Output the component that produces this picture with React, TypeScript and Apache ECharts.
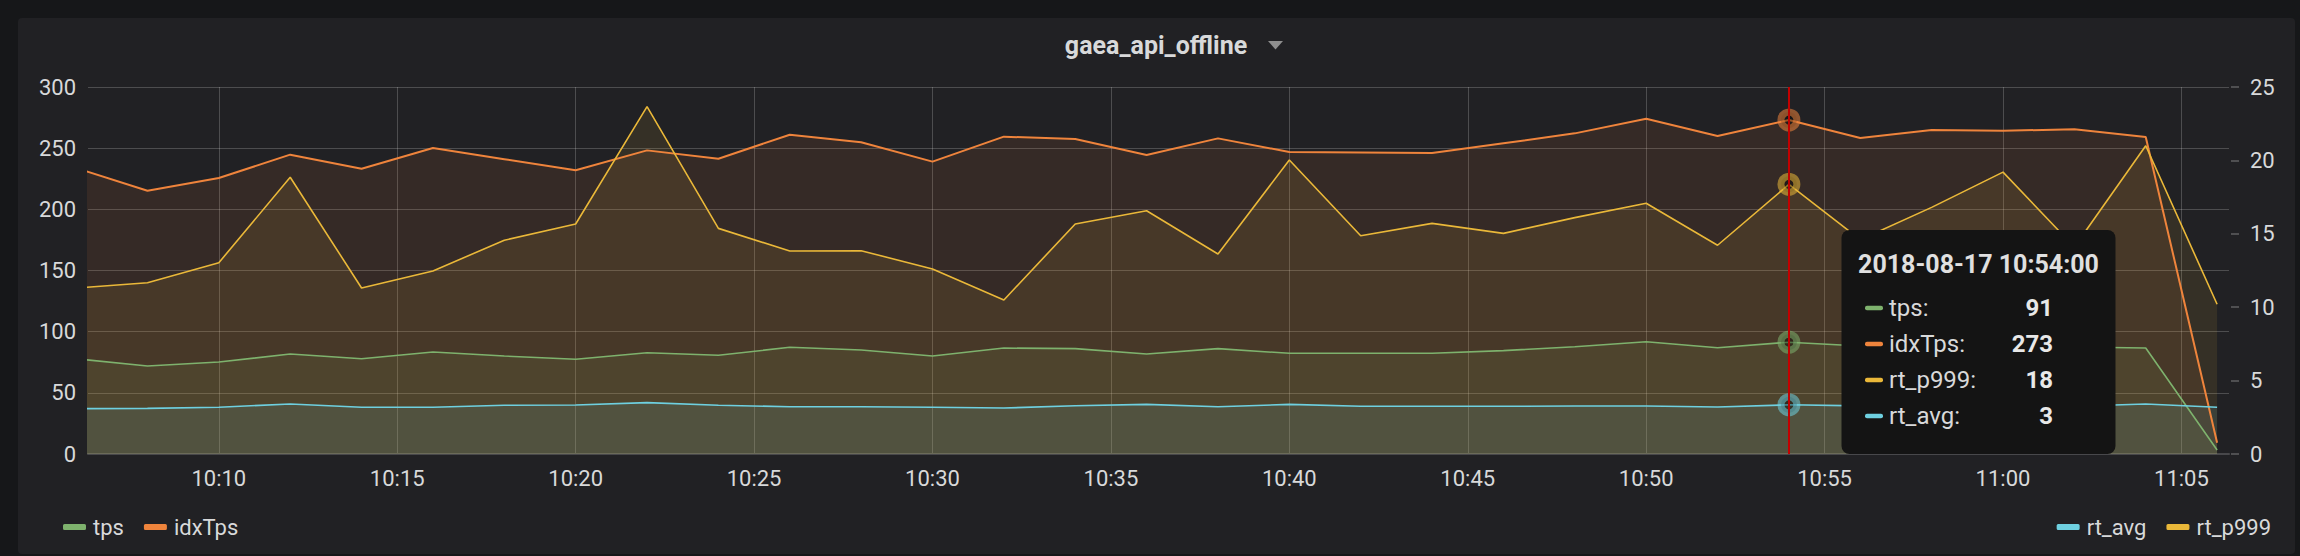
import React, { useEffect, useRef } from 'react';
import * as echarts from 'echarts';

const chartTitle = 'gaea_api_offline';
const dateLabel = '2018-08-17';
const times = [
  '10:06', '10:08', '10:10', '10:12', '10:14', '10:16', '10:18', '10:20', '10:22', '10:24',
  '10:26', '10:28', '10:30', '10:32', '10:34', '10:36', '10:38', '10:40', '10:42', '10:44',
  '10:46', '10:48', '10:50', '10:52', '10:54', '10:56', '10:58', '11:00', '11:02', '11:04', '11:06',
];
const tps = [
  77.8, 71.9, 75.2, 81.7, 77.9, 83.4, 80.1, 77.4, 82.8, 80.7,
  87.2, 85.0, 80.1, 86.6, 86.1, 81.7, 86.1, 82.3, 82.3, 82.3,
  84.5, 87.7, 91.8, 86.9, 91.4, 88.3, 88.8, 89.5, 87.5, 86.6, 3.3,
];
const idxTps = [
  233.7, 215.2, 225.6, 244.7, 233.2, 250.1, 241.0, 231.9, 248.2, 241.4,
  261.0, 254.8, 239.0, 259.4, 257.5, 244.4, 258.0, 246.9, 246.5, 246.0,
  254.0, 262.1, 274.1, 260.0, 273.0, 258.3, 264.9, 264.3, 265.4, 259.1, 9.2,
];
const rtP999 = [
  11.3, 11.67, 13.03, 18.85, 11.31, 12.47, 14.56, 15.67, 23.66, 15.37,
  13.83, 13.85, 12.6, 10.49, 15.67, 16.57, 13.62, 20.03, 14.87, 15.71,
  15.03, 16.1, 17.08, 14.22, 18.37, 14.6, 16.8, 19.2, 14.1, 21.0, 10.2,
];
const rtAvg = [
  3.09, 3.11, 3.18, 3.41, 3.18, 3.18, 3.32, 3.34, 3.5, 3.32,
  3.22, 3.22, 3.18, 3.13, 3.29, 3.38, 3.22, 3.38, 3.25, 3.25,
  3.25, 3.27, 3.27, 3.2, 3.35, 3.28, 3.25, 3.25, 3.25, 3.41, 3.18,
];
const hoverTime = '10:54';
const rangeStart = '10:06';
const rangeEnd = '11:06';
const rangeShiftSeconds = 20;
const xTickMinutes = 5;
const leftAxis = { min: 0, max: 300, interval: 50 };
const rightAxis = { min: 0, max: 25, interval: 5 };

const COLORS = {
  tps: '#7EB26D',
  idxTps: '#EF843C',
  rt_p999: '#EAB839',
  rt_avg: '#6ED0E0',
};
const RING = {
  tps: 'rgba(126,178,109,0.55)',
  idxTps: 'rgba(239,132,60,0.55)',
  rt_p999: 'rgba(234,184,57,0.55)',
  rt_avg: 'rgba(110,208,224,0.55)',
};
const TEXT = '#d8d9da';
const GRID = 'rgba(255,255,255,0.2)';
const FONT = 'Roboto';

function toTs(hm: string, sec = 0) {
  const [h, m] = hm.split(':').map(Number);
  return new Date(2018, 7, 17, h, m, sec).getTime();
}
const pad = (n: number) => (n < 10 ? '0' + n : '' + n);

export default function App() {
  const ref = useRef<HTMLDivElement>(null);

  useEffect(() => {
    if (!ref.current) return;
    const chart = echarts.init(ref.current, undefined, { renderer: 'svg' });
    const hi = times.indexOf(hoverTime);
    const hTs = toTs(hoverTime);

    const seriesDefs = [
      { name: 'tps', data: tps, axis: 0, width: 1.6 },
      { name: 'idxTps', data: idxTps, axis: 0, width: 2 },
      { name: 'rt_p999', data: rtP999, axis: 1, width: 1.6 },
      { name: 'rt_avg', data: rtAvg, axis: 1, width: 1.6 },
    ];

    const series: any[] = seriesDefs.map((s, idx) => {
      const color = (COLORS as any)[s.name];
      const obj: any = {
        name: s.name,
        type: 'line',
        yAxisIndex: s.axis,
        data: times.map((t, i) => [toTs(t), s.data[i]]),
        symbol: 'none',
        showSymbol: false,
        smooth: false,
        clip: true,
        lineStyle: { color, width: s.width },
        itemStyle: { color },
        areaStyle: { color, opacity: 0.1 },
        emphasis: { disabled: true },
        markPoint: {
          silent: true,
          symbol: 'circle',
          symbolSize: 16,
          label: { show: false },
          itemStyle: { color: 'rgba(0,0,0,0.35)', borderColor: (RING as any)[s.name], borderWidth: 7 },
          data: [{ coord: [hTs, s.data[hi]] }],
        },
      };
      if (idx === seriesDefs.length - 1) {
        obj.markLine = {
          silent: true,
          z: 10,
          symbol: ['none', 'none'],
          label: { show: false },
          lineStyle: { color: '#c40000', width: 2, type: 'solid', opacity: 1 },
          data: [{ xAxis: hTs }],
        };
      }
      return obj;
    });

    const boxX = 1841.5, boxY = 230, boxW = 274, boxH = 224;
    const rowY0 = 308, rowStep = 36;
    const tipRows = [
      { name: 'tps', v: tps[hi] },
      { name: 'idxTps', v: idxTps[hi] },
      { name: 'rt_p999', v: rtP999[hi] },
      { name: 'rt_avg', v: rtAvg[hi] },
    ];
    const graphic: any[] = [
      {
        type: 'polygon',
        z: 100,
        shape: { points: [[1268, 41], [1283, 41], [1275.5, 49.5]] },
        style: { fill: '#8e8e8e' },
      },
      {
        type: 'rect',
        z: 100,
        shape: { x: boxX, y: boxY, width: boxW, height: boxH, r: 8 },
        style: { fill: '#141414' },
      },
      {
        type: 'text',
        z: 101,
        x: boxX + boxW / 2,
        y: 264,
        style: {
          text: `${dateLabel} ${hoverTime}:00`,
          fill: '#e0e0e0',
          font: `bold 25px ${FONT}`,
          align: 'center',
          verticalAlign: 'middle',
        },
      },
    ];
    tipRows.forEach((r, i) => {
      const y = rowY0 + i * rowStep;
      graphic.push({
        type: 'rect',
        z: 101,
        shape: { x: 1865, y: y - 2.3, width: 18, height: 4.6, r: 2 },
        style: { fill: (COLORS as any)[r.name] },
      });
      graphic.push({
        type: 'text',
        z: 101,
        x: 1889,
        y,
        style: { text: r.name + ':', fill: TEXT, font: `24px ${FONT}`, align: 'left', verticalAlign: 'middle' },
      });
      graphic.push({
        type: 'text',
        z: 101,
        x: 2053,
        y,
        style: { text: String(Math.round(r.v)), fill: '#e8e8e8', font: `bold 24px ${FONT}`, align: 'right', verticalAlign: 'middle' },
      });
    });

    const legendCommon = {
      orient: 'horizontal',
      top: 511,
      icon: 'roundRect',
      itemWidth: 23,
      itemHeight: 6,
      itemGap: 20,
      selectedMode: false,
      textStyle: { color: TEXT, fontSize: 22, fontFamily: FONT, padding: [0, 0, 0, 2] },
    };

    const approx = (xTickMinutes + 0.5) * 60 * 1000;

    chart.setOption({
      animation: false,
      backgroundColor: 'transparent',
      textStyle: { fontFamily: FONT },
      title: {
        text: chartTitle,
        left: 1156,
        top: 33,
        padding: 0,
        textAlign: 'center',
        textStyle: { color: TEXT, fontSize: 25, fontWeight: 'bold', fontFamily: FONT },
      },
      legend: [
        { ...legendCommon, left: 58, data: ['tps', 'idxTps'] },
        { ...legendCommon, right: 24, data: ['rt_avg', 'rt_p999'] },
      ],
      grid: { left: 88, top: 87, right: 71, bottom: 102, containLabel: false },
      xAxis: {
        type: 'time',
        min: toTs(rangeStart, rangeShiftSeconds),
        max: toTs(rangeEnd, rangeShiftSeconds),
        splitNumber: 11,
        minInterval: approx,
        maxInterval: approx,
        axisLine: { show: true, lineStyle: { color: '#48484b', width: 2 } },
        axisTick: { show: false },
        axisLabel: {
          color: TEXT,
          fontSize: 22,
          fontFamily: FONT,
          margin: 13,
          interval: 0,
          hideOverlap: false,
          formatter: (v: number) => {
            const d = new Date(v);
            if (d.getSeconds() !== 0 || d.getMinutes() % xTickMinutes !== 0) return '';
            return pad(d.getHours()) + ':' + pad(d.getMinutes());
          },
        },
        splitLine: { show: true, showMinLine: false, showMaxLine: false, lineStyle: { color: GRID, width: 1 } },
      },
      yAxis: [
        {
          type: 'value',
          position: 'left',
          min: leftAxis.min,
          max: leftAxis.max,
          interval: leftAxis.interval,
          axisLine: { show: false },
          axisTick: { show: false },
          axisLabel: { color: TEXT, fontSize: 22, fontFamily: FONT, margin: 12 },
          splitLine: { show: true, lineStyle: { color: GRID, width: 1 } },
        },
        {
          type: 'value',
          position: 'right',
          offset: 2,
          min: rightAxis.min,
          max: rightAxis.max,
          interval: rightAxis.interval,
          axisLine: { show: false },
          axisTick: { show: true, length: 8, inside: false, lineStyle: { color: 'rgba(255,255,255,0.28)', width: 1.5 } },
          axisLabel: { color: TEXT, fontSize: 22, fontFamily: FONT, margin: 19 },
          splitLine: { show: false },
        },
      ],
      series,
      graphic,
    });

    return () => chart.dispose();
  }, []);

  return (
    <div style={{ position: 'fixed', left: 0, top: 0, width: 2300, height: 556, background: '#161719' }}>
      <div
        style={{
          position: 'absolute',
          left: 18,
          top: 18,
          width: 2277,
          height: 536,
          background: '#212124',
          borderRadius: 4,
        }}
      />
      <div ref={ref} style={{ position: 'absolute', left: 0, top: 0, width: 2300, height: 556 }} />
    </div>
  );
}
